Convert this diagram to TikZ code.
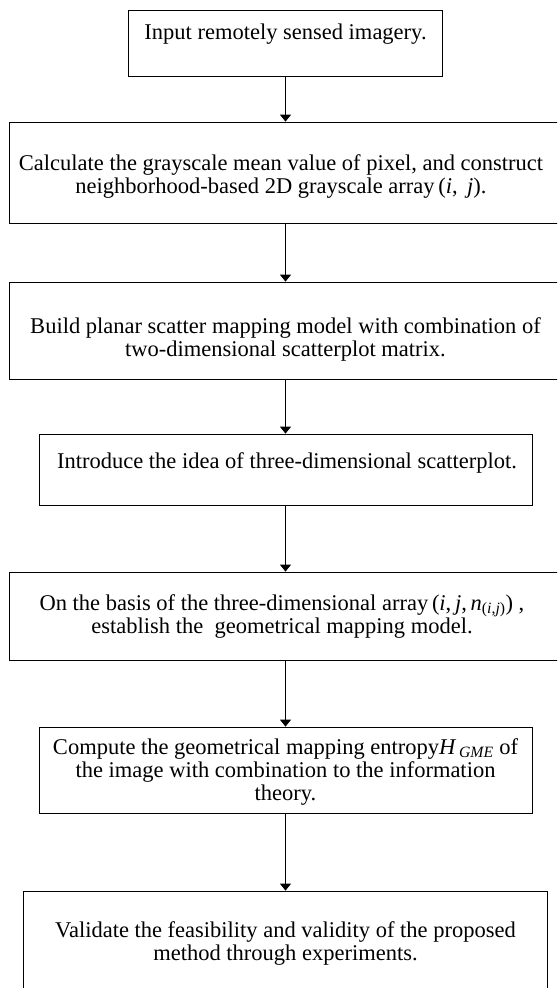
\documentclass[tikz,border=0pt]{standalone}
\usepackage{fontspec}
\setmainfont{Liberation Serif}
\usetikzlibrary{arrows.meta}
\begin{document}
\begin{tikzpicture}[x=1pt,y=-1pt,
  box/.style={draw,line width=0.8pt,rectangle,inner sep=0pt},
  txt/.style={align=center,font=\fontsize{22.5}{23}\selectfont,inner sep=0pt,anchor=base},
  arr/.style={line width=0.8pt,-{Triangle[width=11pt,length=7pt]}}]
\useasboundingbox (0,0) rectangle (557,988);
\clip (0,0) rectangle (557,988);
% boxes
\node[box,minimum width=313.4pt,minimum height=66pt] (b1) at (285.5,43) {};
\node[box,minimum width=552pt,minimum height=101pt] (b2) at (285.5,172.5) {};
\node[box,minimum width=552pt,minimum height=97pt] (b3) at (285.5,330.5) {};
\node[box,minimum width=493pt,minimum height=71pt] (b4) at (285.5,469.5) {};
\node[box,minimum width=552pt,minimum height=88pt] (b5) at (285.5,616) {};
\node[box,minimum width=493pt,minimum height=86pt] (b6) at (285.5,770) {};
\node[box,minimum width=524pt,minimum height=114pt] (b7) at (285.5,948) {};
% texts (base anchor = baseline of last line)
\node[txt] (t1) at (285.5,39) {Input remotely sensed imagery.};
\node[txt] (t2) at (281,193) {Calculate the grayscale mean value of pixel, and construct\\neighborhood-based 2D grayscale array\,(\textit{i},\, \textit{j}).};
\node[txt] (t3) at (285.5,356) {Build planar scatter mapping model with combination of\\two-dimensional scatterplot matrix.};
\node[txt] (t4) at (287,468) {Introduce the idea of three-dimensional scatterplot.};
\node[txt] (t5) at (282,633) {On the basis of the three-dimensional array\,(\textit{i},\,\textit{j},\,\textit{n}\textsubscript{(\textit{i},\textit{j})}) ,\\establish the \ geometrical mapping model.};
\node[txt] (t6) at (285.5,800) {Compute the geometrical mapping entropy\textit{H}\textsubscript{\,\textit{GME}} of\\the image with combination to the information\\theory.};
\node[txt] (t7) at (285.5,960) {Validate the feasibility and validity of the proposed\\method through experiments.};
% arrows
\draw[arr] (b1.south) -- (b2.north);
\draw[arr] (b2.south) -- (b3.north);
\draw[arr] (b3.south) -- (b4.north);
\draw[arr] (b4.south) -- (b5.north);
\draw[arr] (b5.south) -- (b6.north);
\draw[arr] (b6.south) -- (b7.north);
\end{tikzpicture}
\end{document}
